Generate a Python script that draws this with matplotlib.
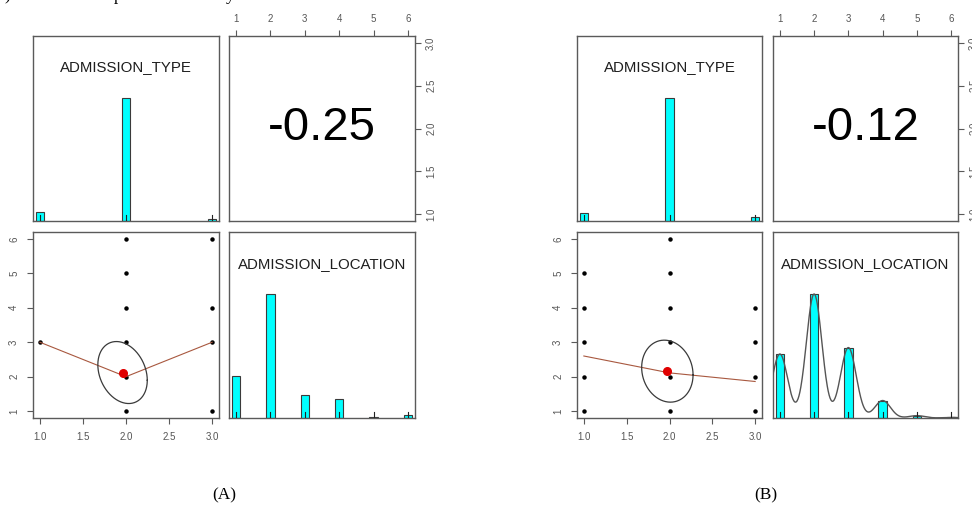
import matplotlib

matplotlib.use("Agg")
import matplotlib.pyplot as plt
import numpy as np

W, H = 972, 505
DPI = 100

# admission codes on each axis
type_codes = [1, 2, 3]
loc_codes = [1, 2, 3, 4, 5, 6]

# histogram bar heights, scaled to the tallest bar (psych style)
type_hist_a = [0.07, 1.0, 0.016]
loc_hist_a = [0.34, 1.0, 0.185, 0.152, 0.005, 0.022]
type_hist_b = [0.065, 1.0, 0.035]
loc_hist_b = [0.516, 1.0, 0.568, 0.141, 0.019, 0.005]

# distinct (type, location) pairs in each sample
pts_type_a = [1, 2, 2, 2, 2, 2, 2, 3, 3, 3, 3]
pts_loc_a = [3, 1, 2, 3, 4, 5, 6, 1, 3, 4, 6]
pts_type_b = [1, 1, 1, 1, 1, 2, 2, 2, 2, 2, 2, 3, 3, 3, 3]
pts_loc_b = [1, 2, 3, 4, 5, 1, 2, 3, 4, 5, 6, 1, 2, 3, 4]

# lowess fit evaluated at each type code
smooth_a = [3.0, 2.0, 3.0]
smooth_b = [2.60, 2.11, 1.86]

# means, ellipse half-widths and correlations
mean_a = (1.96, 2.12)
mean_b = (1.975, 2.16)
half_a = (0.287, 0.90)
half_b = (0.30, 0.90)
corr_a = -0.25
corr_b = -0.12

DENS_BW = 0.228

SPINE = "#5a5a5a"
TICK_TXT = "#555555"
HIST_COL = "#00ffff"


def add_px_axes(fig, x0, x1, y0, y1):
    return fig.add_axes([x0 / W, 1 - y1 / H, (x1 - x0) / W, (y1 - y0) / H])


def style(ax):
    for s in ax.spines.values():
        s.set_color(SPINE)
        s.set_linewidth(1.0)
    ax.tick_params(length=4, width=0.8, color=SPINE, labelsize=7,
                   labelcolor=TICK_TXT, labelfontfamily="Liberation Sans")
    ax.set_xticks([])
    ax.set_yticks([])


def hist_panel(ax, codes, heights, xlim, label, density=False):
    style(ax)
    codes = np.asarray(codes, float)
    half = min(np.diff(codes)) * (len(codes) - 1) / 41
    ax.bar(codes, heights, width=2 * half, color=HIST_COL,
           edgecolor="#3a3a3a", linewidth=0.8, zorder=2)
    if density:
        xs = np.linspace(xlim[0], xlim[1], 400)
        d = sum(h * np.exp(-(xs - c) ** 2 / (2 * DENS_BW ** 2))
                for c, h in zip(codes, heights))
        ax.plot(xs, d / d.max(), color="#555555", lw=1.0, zorder=3)
    # rug
    for c in codes:
        ax.plot([c, c], [0, 0.03], color="#222222", lw=0.8,
                transform=ax.get_xaxis_transform(), zorder=4)
    ax.set_xlim(*xlim)
    ax.set_ylim(0, 1.5)
    ax.text(0.5, 0.83, label, transform=ax.transAxes, ha="center",
            va="center", fontsize=10.8, color="#1e1e1e",
            family="Liberation Sans")


def scatter_panel(ax, xs, ys, fit, mean, half, r):
    style(ax)
    ax.plot(xs, ys, "o", color="black", ms=2.2, zorder=2)
    ax.plot(type_codes, fit, color="#a8583f", lw=0.8, zorder=3)
    t = np.linspace(0, 2 * np.pi, 200)
    ex = mean[0] + half[0] * np.cos(t)
    ey = mean[1] + half[1] * (r * np.cos(t) + np.sqrt(1 - r ** 2) * np.sin(t))
    ax.plot(ex, ey, color="#3a3a3a", lw=0.9, zorder=3)
    ax.plot(*mean, "o", color="#e00000", ms=5.5, zorder=4)
    ax.set_xlim(0.92, 3.08)
    ax.set_ylim(0.8, 6.2)
    ax.set_xticks([1.0, 1.5, 2.0, 2.5, 3.0])
    ax.set_xticklabels(["1.0", "1.5", "2.0", "2.5", "3.0"])
    ax.set_yticks(loc_codes)
    ax.tick_params(axis="x", pad=6)
    ax.tick_params(axis="y", pad=6, labelrotation=90)
    for lab in ax.get_yticklabels():
        lab.set_va("center")


def corr_panel(ax, r):
    style(ax)
    ax.set_xlim(0.8, 6.2)
    ax.set_ylim(0.92, 3.08)
    ax.xaxis.tick_top()
    ax.yaxis.tick_right()
    ax.set_xticks(loc_codes)
    ax.set_yticks([1.0, 1.5, 2.0, 2.5, 3.0])
    ax.set_yticklabels(["1.0", "1.5", "2.0", "2.5", "3.0"])
    ax.tick_params(axis="x", pad=5)
    ax.tick_params(axis="y", pad=4, labelrotation=90)
    for lab in ax.get_yticklabels():
        lab.set_va("center")
    ax.text(0.5, 0.5, f"{r:.2f}", transform=ax.transAxes, ha="center",
            va="center", fontsize=34, color="black", family="Liberation Sans")


def pairs_plot(fig, cols, data):
    (c1, c2) = cols
    rows = [(36, 221), (232, 418)]
    tl = add_px_axes(fig, *c1, *rows[0])
    tr = add_px_axes(fig, *c2, *rows[0])
    bl = add_px_axes(fig, *c1, *rows[1])
    br = add_px_axes(fig, *c2, *rows[1])
    hist_panel(tl, type_codes, data["type_hist"], (0.92, 3.08),
               "ADMISSION_TYPE")
    hist_panel(br, loc_codes, data["loc_hist"], (0.8, 6.2),
               "ADMISSION_LOCATION", density=data["density"])
    corr_panel(tr, data["corr"])
    scatter_panel(bl, data["px"], data["py"], data["fit"], data["mean"],
                  data["half"], data["corr"])


fig = plt.figure(figsize=(W / DPI, H / DPI), dpi=DPI)

pairs_plot(fig, ((33, 219), (229, 415)),
           dict(type_hist=type_hist_a, loc_hist=loc_hist_a, density=False,
                corr=corr_a, px=pts_type_a, py=pts_loc_a, fit=smooth_a,
                mean=mean_a, half=half_a))
pairs_plot(fig, ((577, 762), (773, 958)),
           dict(type_hist=type_hist_b, loc_hist=loc_hist_b, density=True,
                corr=corr_b, px=pts_type_b, py=pts_loc_b, fit=smooth_b,
                mean=mean_b, half=half_b))

# panel captions
fig.text(224 / W, 1 - 495 / H, "(A)", ha="center", va="center",
         fontsize=12.5, family="Liberation Serif")
fig.text(766 / W, 1 - 495 / H, "(B)", ha="center", va="center",
         fontsize=12.5, family="Liberation Serif")

# tail of the preceding text line, cut at the top edge
for xpx, ch in [(7, ")"), (118, "p"), (230, "y")]:
    fig.text(xpx / W, 1.0, ch, ha="center", va="baseline", fontsize=12.5,
             family="Liberation Serif")

fig.savefig("out.png", dpi=DPI)
